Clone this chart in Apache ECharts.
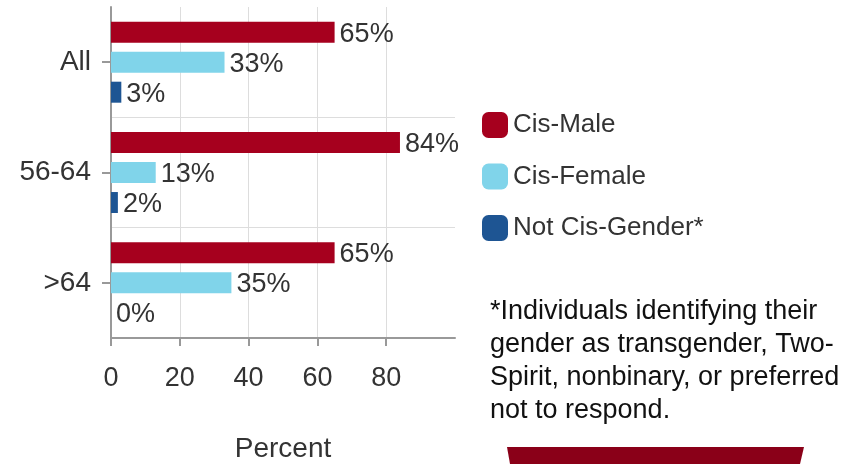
<!DOCTYPE html>
<html><head><meta charset="utf-8">
<script src="https://cdn.jsdelivr.net/npm/echarts@6/dist/echarts.min.js"></script>
<style>html,body{margin:0;padding:0;background:#fff}#c{width:848px;height:464px}</style>
</head><body><div id="c"></div>
<script>
const categories = ['All', '56-64', '>64'];
const cisMale = [65, 84, 65];
const cisFemale = [33, 13, 35];
const notCis = [3, 2, 0];
const xTicks = [0, 20, 40, 60, 80];
const footnote = ['*Individuals identifying their', 'gender as transgender, Two-', 'Spirit, nonbinary, or preferred', 'not to respond.'];

const FONT = 'Liberation Sans, Arial, sans-serif';
const chart = echarts.init(document.getElementById('c'));
const lbl = {show: true, position: 'right', formatter: '{c}%', fontSize: 27, color: '#333', fontFamily: FONT, distance: 5, offset: [0, 2]};
function ser(name, data, color) {
  return {name, type: 'bar', data, barWidth: 21, barGap: '43%', itemStyle: {color}, label: lbl, emphasis: {disabled: true}};
}
chart.setOption({
  animation: false,
  textStyle: {fontFamily: FONT},
  grid: {left: 111, right: 393, top: 7, bottom: 126, containLabel: false, outerBoundsMode: 'none'},
  xAxis: {
    type: 'value', min: 0, max: 100, interval: 20,
    axisLine: {show: true, lineStyle: {color: '#999', width: 2}},
    axisTick: {show: true, length: 8, customValues: xTicks, lineStyle: {color: '#999', width: 2}},
    axisLabel: {fontSize: 27, color: '#333', margin: 27, customValues: xTicks},
    splitLine: {show: true, lineStyle: {color: '#ddd', width: 1}},
    name: 'Percent', nameLocation: 'middle', nameGap: 97,
    nameTextStyle: {fontSize: 28, color: '#333'}
  },
  yAxis: {
    type: 'category', data: categories, inverse: true,
    axisLine: {show: true, lineStyle: {color: '#999', width: 2}},
    axisTick: {show: true, alignWithLabel: true, length: 9, lineStyle: {color: '#999', width: 2}},
    axisLabel: {fontSize: 28, color: '#333', margin: 20, padding: [4, 0, 0, 0]},
    splitLine: {show: true, interval: (i) => i > 0, lineStyle: {color: '#ddd', width: 1}}
  },
  legend: {
    orient: 'vertical', left: 477, top: 107, itemWidth: 26, itemHeight: 26, itemGap: 25.5,
    icon: 'roundRect',
    textStyle: {fontSize: 26, color: '#333', fontFamily: FONT, padding: [0, 0, 0, 0]},
    data: ['Cis-Male', 'Cis-Female', 'Not Cis-Gender*']
  },
  series: [
    ser('Cis-Male', cisMale, '#A6001E'),
    ser('Cis-Female', cisFemale, '#80D4EA'),
    ser('Not Cis-Gender*', notCis, '#1E5593')
  ],
  graphic: [
    {type: 'text', left: 490, top: 295, style: {text: footnote.join('\n'), fontSize: 27, lineHeight: 33, fill: '#111', fontFamily: FONT}},
    {type: 'polygon', shape: {points: [[507, 447], [804, 447], [800, 464], [510, 464]]}, style: {fill: '#8A0018'}}
  ]
});
</script></body></html>
